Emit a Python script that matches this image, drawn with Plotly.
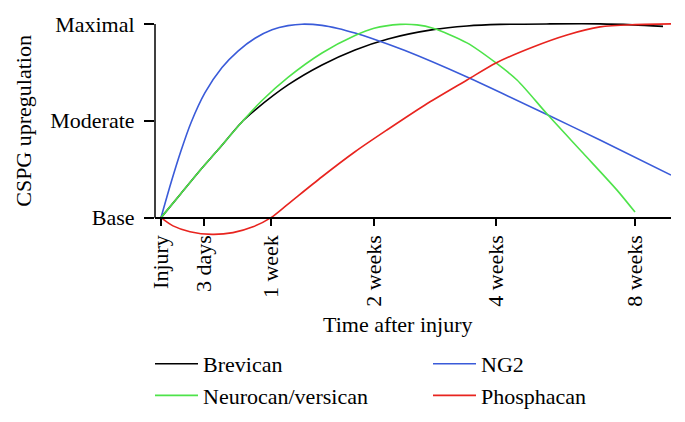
import plotly.graph_objects as go

# ---- data (x = relative position on the time axis, y: 0=Base, 1=Moderate, 2=Maximal)
tick_positions = [0, 43, 110, 213, 335, 474]
tick_labels = ["Injury", "3 days", "1 week", "2 weeks", "4 weeks", "8 weeks"]
y_tick_values = [0, 1, 2]
y_tick_labels = ["Base", "Moderate", "Maximal"]

brevican_x = [0, 20, 40, 57, 82, 94, 127, 161, 194, 227, 272, 306, 339, 389, 439, 472, 502]
brevican_y = [0, 0.25, 0.50, 0.70, 1.0, 1.111, 1.37, 1.576, 1.731, 1.845, 1.941, 1.979, 1.995, 2.0, 2.0, 1.99, 1.975]

ng2_x = [0, 10, 20, 30, 44, 61, 77, 94, 111, 127, 141, 161, 177, 194, 211, 244, 306, 387, 439, 510]
ng2_y = [0, 0.36, 0.69, 0.98, 1.29, 1.55, 1.72, 1.852, 1.94, 1.982, 1.997, 1.985, 1.953, 1.906, 1.85, 1.725, 1.452, 1.059, 0.801, 0.439]

neurocan_x = [0, 20, 40, 57, 82, 101, 127, 161, 194, 213, 239, 256, 272, 306, 335, 356, 387, 422, 456, 474]
neurocan_y = [0, 0.25, 0.50, 0.70, 1.0, 1.209, 1.448, 1.70, 1.88, 1.955, 1.995, 1.99, 1.955, 1.804, 1.597, 1.421, 1.059, 0.667, 0.284, 0.057]

phosphacan_x = [0, 12, 29, 51, 72, 92, 110, 127, 161, 194, 227, 264, 306, 335, 372, 406, 439, 474, 510]
phosphacan_y = [0, -0.085, -0.145, -0.173, -0.155, -0.095, 0, 0.14, 0.422, 0.68, 0.912, 1.163, 1.421, 1.597, 1.762, 1.886, 1.969, 1.993, 2.0]

x_range = [-6, 510]
y_range = [-0.2, 2.03]

FONT = "Liberation Serif, Times New Roman, serif"
FS = 22

fig = go.Figure()
series = [
    ("Brevican", brevican_x, brevican_y, "#000000", 1),
    ("NG2", ng2_x, ng2_y, "#3a5bd9", 2),
    ("Neurocan/versican", neurocan_x, neurocan_y, "#4ee34a", 3),
    ("Phosphacan", phosphacan_x, phosphacan_y, "#e8241f", 4),
]
for name, xs, ys, col, rank in series:
    fig.add_trace(go.Scatter(x=xs, y=ys, mode="lines", name=name,
                             line=dict(color=col, width=1.6, shape="spline", smoothing=0.8),
                             legendrank=rank))

xpos = (0 - y_range[0]) / (y_range[1] - y_range[0])
L, R, T, B = 155, 14, 21, 185
PW, PH = 685 - L - R, 422 - T - B

fig.update_layout(
    width=685, height=422,
    margin=dict(l=L, r=R, t=T, b=B, autoexpand=False),
    paper_bgcolor="white", plot_bgcolor="white",
    font=dict(family=FONT, size=FS, color="black"),
    showlegend=True,
    legend=dict(orientation="h", x=(150 - L) / PW, xref="paper", xanchor="left",
                y=1 - (343 - T) / PH, yref="paper", yanchor="top",
                entrywidth=220, entrywidthmode="pixels", itemwidth=43,
                font=dict(family=FONT, size=FS), bgcolor="rgba(0,0,0,0)", traceorder="normal"),
    xaxis=dict(range=x_range, anchor="free", position=xpos, showline=True, linecolor="black", linewidth=1.5,
               ticks="outside", ticklen=8, tickwidth=1.5, tickcolor="black",
               tickvals=tick_positions, ticktext=tick_labels, tickangle=-90,
               showgrid=False, zeroline=False, tickfont=dict(family=FONT, size=FS)),
    yaxis=dict(range=y_range, showline=False, ticks="outside", ticklen=10, tickwidth=1.5, tickcolor="black",
               tickvals=y_tick_values, ticktext=y_tick_labels, showgrid=False, zeroline=False,
               ticklabelstandoff=5, tickfont=dict(family=FONT, size=FS)),
    shapes=[dict(type="line", xref="paper", yref="y", x0=0, x1=0, y0=0, y1=2,
                 line=dict(color="black", width=1.5))],
    annotations=[
        dict(text="CSPG upregulation", xref="paper", yref="y", x=(24 - L) / PW, y=1,
             textangle=-90, showarrow=False, font=dict(family=FONT, size=FS), xanchor="center", yanchor="middle"),
        dict(text="Time after injury", xref="paper", yref="paper", x=(398 - L) / PW,
             y=1 - (324 - T) / PH, showarrow=False, font=dict(family=FONT, size=FS),
             xanchor="center", yanchor="middle"),
    ],
)

fig.write_html("out.html", config={"displayModeBar": False},
               post_script="document.body.style.margin='0';")
